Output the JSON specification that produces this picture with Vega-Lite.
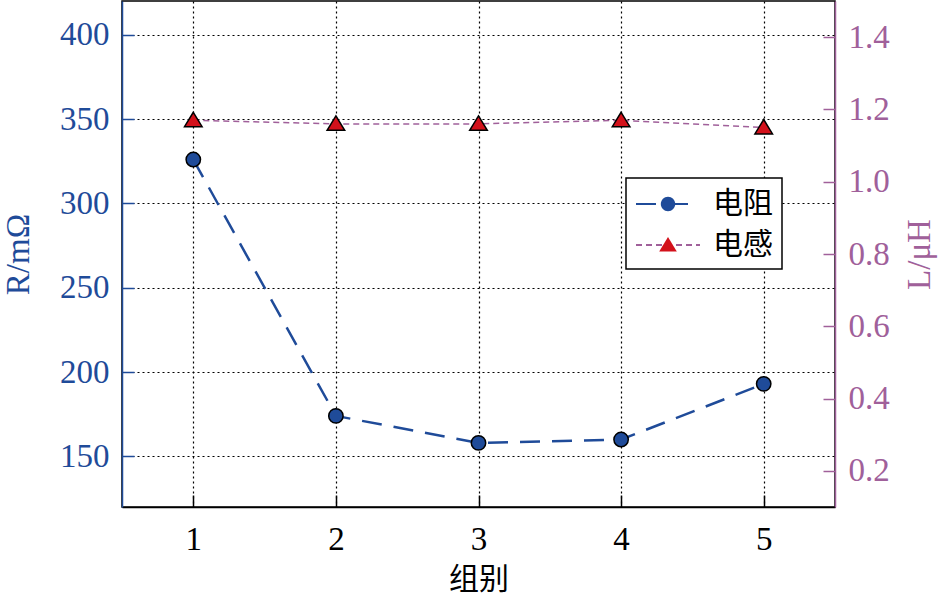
{
  "$schema": "https://vega.github.io/schema/vega-lite/v6.json",
  "width": 713,
  "height": 506,
  "autosize": "none",
  "padding": {"left": 122, "top": 1, "right": 111, "bottom": 95},
  "background": "white",
  "data": {
    "values": [
      {"group": 1, "series": "电阻", "value": 326},
      {"group": 2, "series": "电阻", "value": 174},
      {"group": 3, "series": "电阻", "value": 158},
      {"group": 4, "series": "电阻", "value": 160},
      {"group": 5, "series": "电阻", "value": 193},
      {"group": 1, "series": "电感", "value": 1.17},
      {"group": 2, "series": "电感", "value": 1.16},
      {"group": 3, "series": "电感", "value": 1.16},
      {"group": 4, "series": "电感", "value": 1.17},
      {"group": 5, "series": "电感", "value": 1.15}
    ]
  },
  "encoding": {
    "x": {
      "field": "group",
      "type": "quantitative",
      "scale": {"domain": [0.5, 5.5], "nice": false, "zero": false},
      "axis": {
        "values": [1, 2, 3, 4, 5],
        "format": "d",
        "title": "组别",
        "titleFont": "Noto Sans CJK SC",
        "titleFontSize": 30,
        "titleFontWeight": "normal",
        "titleColor": "black",
        "titlePadding": 8,
        "labelFont": "Liberation Serif, DejaVu Serif, serif",
        "labelFontSize": 33,
        "labelColor": "black",
        "labelPadding": 28,
        "domainColor": "black",
        "domainWidth": 1.5,
        "tickColor": "black",
        "tickWidth": 1.5,
        "tickSize": -12,
        "grid": true,
        "gridColor": "black",
        "gridDash": [2, 3],
        "gridWidth": 1.2,
        "gridOpacity": 1
      }
    }
  },
  "layer": [
    {
      "transform": [{"filter": "datum.series === '电阻'"}],
      "encoding": {
        "y": {
          "field": "value",
          "type": "quantitative",
          "scale": {"domain": [120, 420], "nice": false, "zero": false},
          "axis": {
            "orient": "left",
            "values": [150, 200, 250, 300, 350, 400],
            "title": "R/mΩ",
            "titleFont": "Liberation Serif, DejaVu Serif, serif",
            "titleFontSize": 33,
            "titleFontWeight": "normal",
            "titleColor": "#1f4b99",
            "titlePadding": 24,
            "labelFont": "Liberation Serif, DejaVu Serif, serif",
            "labelFontSize": 33,
            "labelColor": "#1f4b99",
            "labelPadding": 25,
            "domainColor": "#1f4b99",
            "domainWidth": 1.5,
            "tickColor": "#1f4b99",
            "tickWidth": 1.5,
            "tickSize": -12,
            "grid": true,
            "gridColor": "black",
            "gridDash": [2, 3],
            "gridWidth": 1.2,
            "gridOpacity": 1
          }
        }
      },
      "layer": [
        {
          "mark": {"type": "line", "strokeWidth": 2.5},
          "encoding": {
            "stroke": {
              "field": "series",
              "type": "nominal",
              "scale": {"domain": ["电阻", "电感"], "range": ["#1f4b99", "#a0609a"]},
              "legend": {
                "title": null,
                "orient": "none",
                "legendX": 504,
                "legendY": 177,
                "padding": 9,
                "fillColor": "white",
                "strokeColor": "black",
                "zindex": 1,
                "symbolType": "M-2,0H2",
                "symbolSize": 1024,
                "symbolStrokeWidth": 2,
                "symbolOffset": 16,
                "labelFont": "Noto Sans CJK SC",
                "labelFontSize": 30,
                "labelColor": "black",
                "labelOffset": 28,
                "rowPadding": 9
              }
            },
            "strokeDash": {
              "field": "series",
              "type": "nominal",
              "scale": {"domain": ["电阻", "电感"], "range": [[20, 12], [6, 4]]},
              "legend": {
                "title": null,
                "orient": "none",
                "legendX": 504,
                "legendY": 177,
                "padding": 9,
                "fillColor": "white",
                "strokeColor": "black",
                "zindex": 1,
                "symbolType": "M-2,0H2",
                "symbolSize": 1024,
                "symbolStrokeWidth": 2,
                "symbolOffset": 16,
                "labelFont": "Noto Sans CJK SC",
                "labelFontSize": 30,
                "labelColor": "black",
                "labelOffset": 28,
                "rowPadding": 9
              }
            }
          }
        },
        {
          "mark": {"type": "point", "filled": true, "size": 1024, "stroke": "black", "strokeWidth": 1.5, "opacity": 1},
          "encoding": {
            "fill": {
              "field": "series",
              "type": "nominal",
              "sort": "descending",
              "scale": {"range": ["#1f4b99", "#d3111b"]},
              "legend": {
                "title": null,
                "orient": "none",
                "legendX": 504,
                "legendY": 177,
                "padding": 9,
                "zindex": 2,
                "symbolSize": 1024,
                "symbolStrokeColor": "black",
                "symbolStrokeWidth": 1.5,
                "symbolOffset": 16,
                "labelFont": "Noto Sans CJK SC",
                "labelFontSize": 30,
                "labelOpacity": 0,
                "labelOffset": 28,
                "rowPadding": 9
              }
            },
            "shape": {
              "field": "series",
              "type": "nominal",
              "sort": "descending",
              "scale": {"range": ["M-0.45,0A0.45,0.45 0 1,0 0.45,0A0.45,0.45 0 1,0 -0.45,0Z", "M0,-0.5L0.55,0.4L-0.55,0.4Z"]},
              "legend": {
                "title": null,
                "orient": "none",
                "legendX": 504,
                "legendY": 177,
                "padding": 9,
                "zindex": 2,
                "symbolSize": 1024,
                "symbolStrokeColor": "black",
                "symbolStrokeWidth": 1.5,
                "symbolOffset": 16,
                "labelFont": "Noto Sans CJK SC",
                "labelFontSize": 30,
                "labelOpacity": 0,
                "labelOffset": 28,
                "rowPadding": 9
              }
            }
          }
        }
      ]
    },
    {
      "transform": [{"filter": "datum.series === '电感'"}],
      "encoding": {
        "y": {
          "field": "value",
          "type": "quantitative",
          "scale": {"domain": [0.1, 1.5], "nice": false, "zero": false},
          "axis": {
            "orient": "right",
            "values": [0.2, 0.4, 0.6, 0.8, 1.0, 1.2, 1.4],
            "format": ".1f",
            "title": "L/μH",
            "titleAngle": 270,
            "titleBaseline": "top",
            "titleFont": "Liberation Serif, DejaVu Serif, serif",
            "titleFontSize": 33,
            "titleFontWeight": "normal",
            "titleColor": "#a0609a",
            "titlePadding": 14,
            "labelFont": "Liberation Serif, DejaVu Serif, serif",
            "labelFontSize": 33,
            "labelColor": "#a0609a",
            "labelPadding": 25,
            "domainColor": "#a0609a",
            "domainWidth": 1.5,
            "tickColor": "#a0609a",
            "tickWidth": 1.5,
            "tickSize": -12,
            "grid": false
          }
        }
      },
      "layer": [
        {
          "mark": {"type": "line", "strokeWidth": 1.5},
          "encoding": {
            "stroke": {"field": "series", "type": "nominal"},
            "strokeDash": {"field": "series", "type": "nominal"}
          }
        },
        {
          "mark": {"type": "point", "filled": true, "size": 1024, "stroke": "black", "strokeWidth": 1.5, "opacity": 1},
          "encoding": {
            "fill": {"field": "series", "type": "nominal", "sort": "descending"},
            "shape": {"field": "series", "type": "nominal", "sort": "descending"}
          }
        }
      ]
    }
  ],
  "resolve": {"scale": {"y": "independent"}},
  "config": {
    "view": {"stroke": "black", "strokeWidth": 1.5},
    "legend": {"strokeWidth": 1.5}
  }
}
